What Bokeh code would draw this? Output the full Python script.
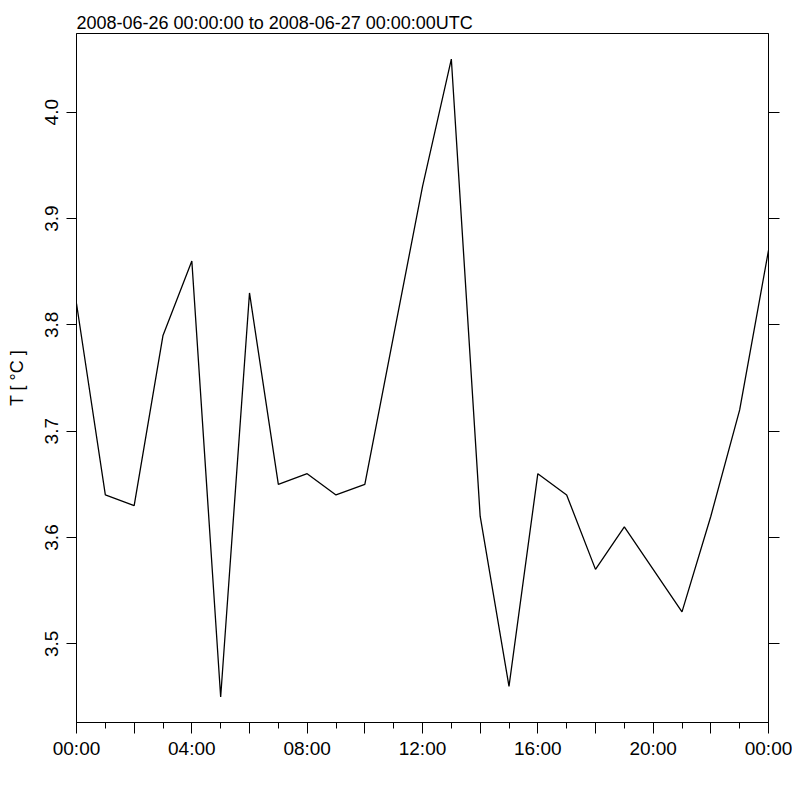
from bokeh.plotting import figure
from bokeh.models import Range1d, LinearAxis, FixedTicker
from bokeh.embed import file_html
from bokeh.resources import INLINE

# Data: hourly temperature, 2008-06-26 00:00 to 2008-06-27 00:00 UTC
hours = list(range(25))
temps = [3.82, 3.64, 3.63, 3.79, 3.86, 3.45, 3.83, 3.65, 3.66, 3.64,
         3.65, 3.79, 3.93, 4.05, 3.62, 3.46, 3.66, 3.64, 3.57, 3.61,
         3.57, 3.53, 3.62, 3.72, 3.87]

x_major = [0, 2, 4, 6, 8, 10, 12, 14, 16, 18, 20, 22, 24]
x_minor = list(range(25))
x_labels = {0: "00:00", 4: "04:00", 8: "08:00", 12: "12:00",
            16: "16:00", 20: "20:00", 24: "00:00"}
y_ticks = [3.5, 3.6, 3.7, 3.8, 3.9, 4.0]
y_tick_labels = ["3.5", "3.6", "3.7", "3.8", "3.9", "4.0"]
title_text = "2008-06-26 00:00:00 to 2008-06-27 00:00:00UTC"
y_label = "T [ \u00b0C ]"

FONT = "Liberation Sans"

p = figure(width=792, height=792, output_backend="svg", toolbar_location=None,
           x_range=Range1d(0, 24), y_range=Range1d(3.426, 4.074),
           min_border_left=76, min_border_right=24, min_border_top=33,
           min_border_bottom=70)

p.title.text = title_text
p.title.text_font = FONT
p.title.text_font_size = "18px"
p.title.text_font_style = "normal"
p.title.text_color = "black"
p.title.align = "left"
p.title.offset = 0
p.title.standoff = 2

p.xgrid.visible = False
p.ygrid.visible = False
p.outline_line_color = "black"
p.outline_line_width = 1
p.outline_line_alpha = 1
p.background_fill_color = "white"
p.border_fill_color = "white"

p.line(hours, temps, line_color="black", line_width=1.3)

# x axis
xa = p.xaxis[0]
xa.ticker = FixedTicker(ticks=x_major, minor_ticks=x_minor)
xa.major_label_overrides = {k: x_labels.get(k, "") for k in x_major}
xa.major_tick_out = 11
xa.major_tick_in = 0
xa.minor_tick_out = 6
xa.minor_tick_in = 0
xa.major_label_text_font = FONT
xa.major_label_text_font_size = "19px"
xa.major_label_text_color = "black"
xa.major_label_standoff = 4
xa.axis_line_color = "black"
xa.major_tick_line_color = "black"
xa.minor_tick_line_color = "black"

# left y axis
ya = p.yaxis[0]
ya.ticker = FixedTicker(ticks=y_ticks, minor_ticks=[])
ya.major_label_overrides = dict(zip(y_ticks, y_tick_labels))
ya.major_tick_out = 10
ya.major_tick_in = 0
ya.minor_tick_line_color = None
ya.major_label_orientation = "vertical"
ya.major_label_text_font = FONT
ya.major_label_text_font_size = "19px"
ya.major_label_text_color = "black"
ya.major_label_standoff = 8
ya.axis_label = y_label
ya.axis_label_text_font = FONT
ya.axis_label_text_font_size = "18px"
ya.axis_label_text_font_style = "normal"
ya.axis_label_text_color = "black"
ya.axis_label_standoff = 16
ya.axis_line_color = "black"
ya.major_tick_line_color = "black"

# right y axis: ticks only
ra = LinearAxis(ticker=FixedTicker(ticks=y_ticks, minor_ticks=[]))
ra.major_tick_out = 11
ra.major_tick_in = 0
ra.minor_tick_line_color = None
ra.major_label_text_font_size = "0px"
ra.major_label_text_alpha = 0
ra.major_label_standoff = 0
ra.axis_line_color = "black"
ra.major_tick_line_color = "black"
p.add_layout(ra, "right")

open("out.html", "w").write(file_html(p, INLINE))
